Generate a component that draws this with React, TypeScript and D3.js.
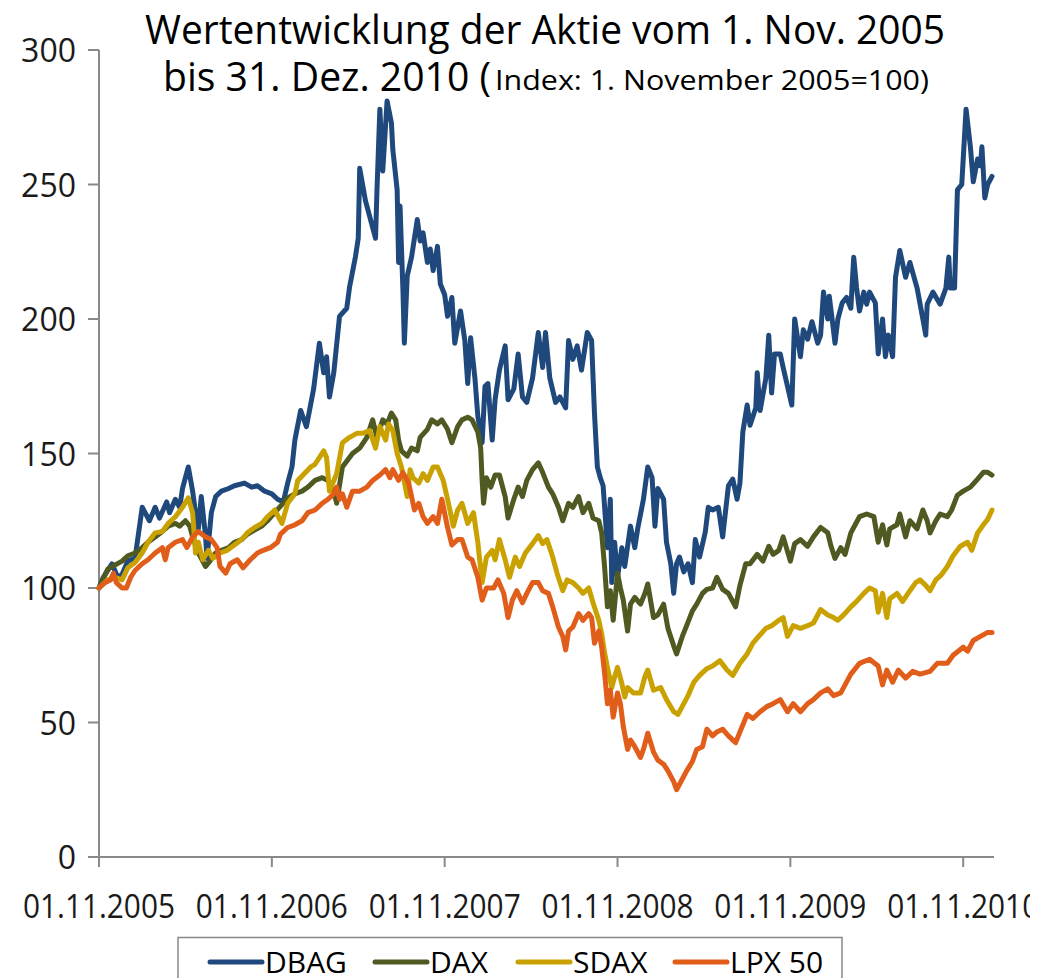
import * as d3 from 'd3'

// months after 01.11.2005, index value (01.11.2005 = 100)
const dbag: [number, number][] = [
  [0, 100], [0.3, 104], [0.9, 109], [1.3, 104], [1.6, 105], [2.0, 110], [2.5, 111], [3.0, 130], [3.2, 128],
  [3.5, 125], [3.9, 130], [4.2, 126], [4.7, 132], [4.9, 128], [5.3, 133], [5.6, 130], [5.8, 137], [6.2, 145],
  [6.5, 136], [6.7, 128], [6.9, 122], [7.1, 134], [7.4, 119], [7.5, 111], [7.8, 128], [8.1, 134], [8.5, 136],
  [9.0, 137], [9.4, 138], [10.1, 139], [10.6, 137.5], [11.0, 138], [11.5, 136], [12.0, 135], [12.4, 133],
  [12.8, 132], [13.1, 139], [13.4, 145], [13.6, 155], [14.0, 166], [14.4, 160], [14.9, 174], [15.3, 191],
  [15.6, 180], [15.8, 186], [16.0, 171], [16.3, 180], [16.7, 201], [17.2, 204], [17.4, 212], [17.8, 223],
  [18.0, 230], [18.1, 256], [18.5, 244], [18.8, 238], [19.2, 230], [19.3, 248], [19.5, 278], [19.7, 255],
  [20.0, 281], [20.3, 273], [20.4, 263], [20.7, 248], [20.8, 221], [20.9, 242], [21.1, 211], [21.2, 191],
  [21.4, 216], [21.7, 223], [22.1, 237], [22.3, 229], [22.5, 232], [22.8, 221], [23.0, 226], [23.2, 218],
  [23.5, 227], [23.7, 213], [24.0, 209], [24.2, 201], [24.5, 208], [24.7, 191], [25.1, 203], [25.4, 192],
  [25.6, 176], [25.8, 193], [26.1, 178], [26.3, 164], [26.6, 154], [26.8, 175], [27.0, 176], [27.3, 155],
  [27.5, 170], [27.8, 181], [28.2, 190], [28.4, 170], [28.8, 174], [29.1, 187], [29.4, 171], [29.7, 169],
  [30.1, 178], [30.5, 195], [30.8, 182], [31.0, 195], [31.3, 178], [31.7, 169], [32.0, 171], [32.4, 167],
  [32.6, 192], [32.9, 185], [33.2, 190], [33.5, 181], [33.9, 195], [34.2, 192], [34.4, 165], [34.6, 145],
  [34.8, 141], [35.0, 138], [35.3, 115], [35.5, 133], [35.6, 102], [35.8, 117], [36.0, 104], [36.3, 115],
  [36.5, 108], [36.9, 123], [37.2, 115], [37.4, 122], [37.8, 133], [38.1, 145], [38.4, 141], [38.6, 123],
  [38.8, 137], [39.2, 133], [39.4, 117], [39.7, 109], [39.9, 98], [40.1, 109], [40.3, 111.5], [40.6, 106],
  [40.9, 109], [41.2, 102], [41.4, 118], [41.7, 111.5], [42.1, 121], [42.3, 130], [42.6, 129], [43.0, 130],
  [43.3, 119], [43.7, 138], [44.0, 140.5], [44.3, 133], [44.5, 139], [44.7, 158], [45.0, 168], [45.2, 160.5],
  [45.6, 167], [45.7, 180], [45.9, 166], [46.3, 178], [46.5, 194], [46.7, 172.5], [46.9, 187], [47.3, 187],
  [47.5, 182], [47.8, 175], [48.1, 168], [48.3, 200], [48.7, 186], [48.9, 196], [49.2, 192.5], [49.5, 199],
  [49.9, 191], [50.1, 194], [50.3, 210], [50.6, 200], [50.7, 208.5], [50.9, 200], [51.1, 191], [51.3, 200],
  [51.6, 206], [51.9, 208], [52.2, 204], [52.4, 223], [52.6, 211.5], [52.8, 203], [53.1, 210], [53.3, 205.5],
  [53.5, 210], [53.9, 206], [54.1, 187], [54.4, 200], [54.6, 186], [54.8, 194], [55.1, 186], [55.3, 215.5],
  [55.6, 225.5], [56.0, 215.5], [56.3, 221], [56.8, 211.5], [57.2, 200], [57.4, 194], [57.5, 205.5],
  [57.9, 210], [58.4, 205.5], [58.8, 211.5], [59.0, 223], [59.1, 211.5], [59.4, 211.5], [59.6, 248],
  [59.9, 250], [60.2, 278], [60.5, 264], [60.7, 251], [61.0, 259.5], [61.2, 257], [61.3, 264], [61.5, 245],
  [61.7, 250], [62.0, 253],
]

const dax: [number, number][] = [
  [0, 100], [0.6, 107], [1.1, 108.5], [1.6, 110], [2.0, 112], [2.5, 113], [3.0, 115], [3.4, 117], [3.9, 119],
  [4.4, 121], [4.8, 123], [5.3, 124], [5.6, 123], [6.0, 125], [6.3, 123], [6.5, 119], [6.9, 113], [7.2, 110],
  [7.4, 108], [7.7, 110], [8.1, 113], [8.5, 114], [9.0, 115], [9.4, 117], [9.9, 118], [10.3, 120],
  [10.8, 121.5], [11.3, 123], [11.7, 125], [12.2, 128], [12.7, 131], [13.1, 133.5], [13.6, 135], [14.1, 136],
  [14.5, 137.5], [15.0, 140], [15.5, 141], [15.9, 140], [16.3, 136], [16.5, 131.5], [16.9, 145], [17.6, 150],
  [18.1, 152], [18.6, 156], [19.0, 162.5], [19.3, 156], [19.7, 162.5], [20.0, 161], [20.3, 165],
  [20.6, 162.5], [20.8, 155], [21.0, 151], [21.4, 149], [21.7, 152], [22.1, 151], [22.3, 156], [22.8, 159],
  [23.1, 162.5], [23.5, 161], [23.8, 162.5], [24.2, 159], [24.5, 154], [24.9, 160], [25.2, 162.5],
  [25.6, 163.5], [25.9, 162.5], [26.3, 158], [26.5, 152], [26.6, 140], [26.7, 131.5], [26.9, 141],
  [27.2, 137.5], [27.5, 142], [27.8, 142], [28.2, 134], [28.4, 126], [28.8, 133], [29.1, 137.5], [29.4, 134],
  [29.7, 140], [30.1, 144], [30.5, 146.5], [30.8, 143], [31.2, 137.5], [31.5, 135], [31.9, 130], [32.2, 125],
  [32.6, 131.5], [32.9, 130], [33.3, 134], [33.6, 128], [34.0, 131.5], [34.3, 126], [34.7, 125],
  [34.9, 120.5], [35.1, 108], [35.3, 93], [35.5, 99], [35.7, 88], [36.0, 105.5], [36.2, 100], [36.4, 95.5],
  [36.7, 84], [36.9, 94], [37.2, 96.5], [37.6, 94], [37.9, 98], [38.1, 101.5], [38.5, 89], [38.8, 90],
  [39.2, 94], [39.5, 85], [39.9, 78.5], [40.1, 75.5], [40.5, 82], [40.8, 86], [41.2, 91.5], [41.5, 94],
  [41.9, 98], [42.2, 99.5], [42.6, 100], [42.9, 104], [43.3, 99.5], [43.7, 98], [44.2, 93], [44.5, 101],
  [44.9, 109], [45.2, 109], [45.7, 112.5], [46.1, 110], [46.5, 115.5], [46.8, 112.5], [47.2, 114],
  [47.5, 119], [48.0, 110], [48.3, 116.5], [48.7, 118], [49.2, 115.5], [49.6, 119], [50.1, 122.5],
  [50.6, 120.5], [50.8, 116], [51.1, 111], [51.5, 115], [51.8, 112.5], [52.2, 120.5], [52.5, 123.5],
  [52.8, 126.5], [53.3, 127.5], [53.8, 126.5], [54.1, 117], [54.4, 123.5], [54.7, 116], [54.9, 122],
  [55.4, 123.5], [55.6, 127.5], [56.0, 119], [56.3, 125], [56.8, 122], [57.2, 129], [57.5, 125],
  [57.7, 120.5], [58.1, 125], [58.4, 127.5], [58.9, 126.5], [59.2, 129], [59.6, 134.5], [60.0, 136],
  [60.5, 137.5], [61.0, 140.5], [61.4, 143], [61.7, 143], [62.0, 142],
]

const sdax: [number, number][] = [
  [0, 100], [0.6, 103], [1.1, 104], [1.6, 103], [2.0, 107.5], [2.5, 109.5], [3.0, 113], [3.4, 117],
  [3.9, 120.5], [4.4, 121], [4.8, 124], [5.3, 126.5], [5.8, 130], [6.2, 133.5], [6.5, 128], [6.6, 120.5],
  [6.7, 113], [6.9, 117], [7.2, 110.5], [7.6, 114], [7.9, 111], [8.4, 113], [8.9, 114], [9.4, 116],
  [9.9, 118], [10.3, 120.5], [10.8, 122.5], [11.3, 124], [11.7, 126.5], [12.2, 129], [12.7, 124],
  [13.1, 131.5], [13.6, 135], [13.8, 140], [14.7, 145], [15.0, 146], [15.6, 151], [15.8, 148.5], [16.0, 136],
  [16.5, 142.5], [16.9, 154], [17.4, 156], [17.9, 157.5], [18.3, 157.5], [18.8, 158.5], [19.2, 152],
  [19.5, 160], [19.9, 155], [20.1, 161], [20.4, 158.5], [20.7, 150], [21.0, 145], [21.4, 134], [21.6, 144],
  [21.8, 141], [22.2, 139], [22.5, 142.5], [22.8, 140], [23.2, 145], [23.5, 145], [23.9, 140], [24.2, 133],
  [24.6, 123], [24.9, 129], [25.2, 131.5], [25.6, 124], [26.0, 128], [26.3, 117], [26.6, 102],
  [26.9, 111.5], [27.3, 114], [27.5, 110.5], [27.8, 118], [28.2, 110.5], [28.5, 104], [28.9, 111.5],
  [29.2, 108], [29.6, 113], [30.1, 116.5], [30.5, 119.5], [30.8, 116.5], [31.1, 118], [31.5, 111.5],
  [31.8, 105.5], [32.2, 99], [32.5, 103], [32.9, 102], [33.3, 100], [33.6, 98], [34.0, 100], [34.3, 94.5],
  [34.7, 88], [34.9, 83], [35.1, 76], [35.3, 70.5], [35.6, 63], [35.8, 67], [36.0, 70.5], [36.3, 64.5],
  [36.5, 59.5], [36.7, 63], [37.1, 61], [37.6, 61], [37.9, 67], [38.1, 69.5], [38.5, 62], [39.0, 63],
  [39.4, 58.5], [39.9, 54], [40.2, 53], [40.6, 57], [40.9, 60], [41.3, 65], [41.7, 67.5], [42.2, 70],
  [42.6, 71], [43.1, 73], [43.6, 69.5], [44.0, 67.5], [44.5, 72], [45.0, 75.5], [45.4, 79.5], [45.8, 82],
  [46.3, 85], [46.7, 86], [47.2, 88], [47.5, 89], [47.8, 82], [48.2, 86], [48.7, 85], [49.2, 86], [49.6, 87],
  [50.1, 92], [50.6, 90], [51.0, 89], [51.3, 88], [51.7, 90], [52.2, 93], [52.6, 95], [53.1, 98], [53.5, 100],
  [53.9, 99], [54.1, 91], [54.4, 98], [54.7, 89], [54.9, 96], [55.4, 98], [55.8, 95], [56.3, 99],
  [56.7, 102], [57.0, 103], [57.4, 101], [57.7, 99], [58.1, 103], [58.5, 105], [58.9, 108], [59.3, 112],
  [59.8, 115.5], [60.3, 117], [60.6, 114], [61.0, 120.5], [61.4, 123.5], [61.7, 125.5], [62.0, 129],
]

const lpx50: [number, number][] = [
  [0, 100], [0.4, 102], [0.8, 103], [1.0, 105.5], [1.2, 102], [1.6, 100], [1.9, 100], [2.2, 104],
  [2.5, 106.5], [3.0, 109], [3.4, 110.5], [3.9, 113], [4.4, 115], [4.6, 110.5], [4.8, 115], [5.3, 117],
  [5.8, 118], [6.1, 115], [6.5, 119], [6.9, 121], [7.4, 119], [7.8, 118], [8.2, 115], [8.4, 108],
  [8.8, 105.5], [9.1, 109], [9.6, 110.5], [10.0, 107.5], [10.5, 110.5], [11.0, 113], [11.4, 114],
  [11.9, 115], [12.4, 117], [12.6, 120], [13.1, 122.5], [13.6, 123.5], [14.1, 125], [14.5, 128], [15.0, 129],
  [15.5, 131.5], [15.9, 133], [16.3, 135], [16.5, 137.5], [16.7, 133], [16.9, 135], [17.2, 130],
  [17.6, 136], [18.1, 136], [18.6, 137.5], [19.0, 140], [19.5, 142], [19.9, 144], [20.2, 141], [20.4, 144],
  [20.8, 140], [21.1, 143], [21.5, 139], [21.7, 134], [21.9, 129], [22.2, 131.5], [22.5, 126.5], [22.8, 124],
  [23.2, 126.5], [23.5, 124], [23.8, 133], [24.2, 122.5], [24.5, 116], [24.9, 118], [25.2, 118],
  [25.6, 111.5], [25.9, 110.5], [26.3, 104], [26.6, 95.5], [26.9, 100], [27.4, 100], [27.7, 103], [28.1, 98],
  [28.4, 89], [28.7, 95.5], [29.0, 99], [29.4, 94.5], [29.7, 98], [30.1, 102], [30.5, 102], [30.8, 99],
  [31.2, 98], [31.5, 93], [31.9, 85.5], [32.2, 82], [32.4, 77], [32.6, 84], [32.9, 85.5], [33.3, 90.5],
  [33.6, 88], [34.0, 90.5], [34.2, 89], [34.4, 79.5], [34.7, 84], [34.9, 78], [35.1, 68.5], [35.3, 57],
  [35.5, 62], [35.7, 52], [36.0, 61], [36.2, 57], [36.4, 48.5], [36.7, 40], [36.9, 43.5], [37.2, 41],
  [37.6, 37], [37.8, 40], [38.1, 46], [38.5, 39], [38.8, 36], [39.2, 34.5], [39.5, 32], [39.9, 28], [40.1, 25],
  [40.5, 29], [40.8, 32], [41.2, 35.5], [41.5, 40], [41.9, 41], [42.2, 47.5], [42.6, 45], [42.9, 46.5],
  [43.3, 47.5], [43.7, 45], [44.2, 42.5], [44.5, 46.5], [45.0, 53], [45.4, 51.5], [45.9, 54], [46.4, 56],
  [46.8, 57], [47.3, 58.5], [47.8, 54], [48.2, 57], [48.7, 54], [49.2, 57], [49.6, 58.5], [50.1, 61],
  [50.6, 62.5], [51.0, 60], [51.5, 61], [52.2, 68], [52.8, 72], [53.5, 73.5], [54.1, 71], [54.4, 64],
  [54.7, 69.5], [55.1, 65], [55.5, 69.5], [56.0, 66.5], [56.5, 69], [57.0, 68], [57.7, 69], [58.2, 72],
  [58.9, 72], [59.3, 75], [60.0, 78], [60.3, 76.5], [60.7, 80.5], [61.2, 82], [61.7, 83.5], [62.0, 83.5],
]

const seriesNames = ['DBAG', 'DAX', 'SDAX', 'LPX 50']
const seriesColors = ['#1f497d', '#4f5a22', '#c9a100', '#e05d1a']
const seriesData = [dbag, dax, sdax, lpx50]

const xTickMonths = [0, 12, 24, 36, 48, 60]
const xTickLabels = ['01.11.2005', '01.11.2006', '01.11.2007', '01.11.2008', '01.11.2009', '01.11.2010']
const yTicks = [0, 50, 100, 150, 200, 250, 300]

const W = 1030
const H = 978

export default function App() {
  const x = d3.scaleLinear().domain([0, 62]).range([99, 992])
  const y = d3.scaleLinear().domain([0, 300]).range([857, 50])

  const line = d3.line<[number, number]>()
    .x(d => x(d[0]))
    .y(d => y(d[1]))

  const axisColor = '#898989'
  const font = "'Open Sans', 'DejaVu Sans', sans-serif"
  const legendX = [210, 375, 518, 675]

  return (
    <div style={{ position: 'absolute', left: 0, top: 0 }}>
      <svg width={W} height={H} style={{ display: 'block', background: '#fff' }} fontFamily={font}>
        {/* title */}
        <text x={145} y={44} fontSize={40} textLength={800} lengthAdjust="spacingAndGlyphs" fill="#000">
          Wertentwicklung der Aktie vom 1. Nov. 2005
        </text>
        <text x={163} y={91} fontSize={40} textLength={328} lengthAdjust="spacingAndGlyphs" fill="#000">
          bis 31. Dez. 2010 (
        </text>
        <text x={495} y={90} fontSize={27} textLength={434} lengthAdjust="spacingAndGlyphs" fill="#000">
          Index: 1. November 2005=100)
        </text>

        {/* y axis */}
        <line x1={99} x2={99} y1={y(300)} y2={y(0)} stroke={axisColor} strokeWidth={2} />
        {yTicks.map(t => (
          <g key={t}>
            <line x1={88} x2={99} y1={y(t)} y2={y(t)} stroke={axisColor} strokeWidth={2} />
            <text x={76} y={y(t) + 12} textAnchor="end" fontSize={32} fill="#1a1a1a">{t}</text>
          </g>
        ))}

        {/* x axis */}
        <line x1={99} x2={994} y1={y(0)} y2={y(0)} stroke={axisColor} strokeWidth={2} />
        {xTickMonths.map((m, i) => (
          <g key={m}>
            <line x1={x(m)} x2={x(m)} y1={y(0)} y2={y(0) + 10} stroke={axisColor} strokeWidth={2} />
            <text x={x(m) - 76} y={918} fontSize={32} textLength={152} lengthAdjust="spacingAndGlyphs" fill="#1a1a1a">
              {xTickLabels[i]}
            </text>
          </g>
        ))}

        {/* series */}
        {seriesData.map((d, i) => (
          <path key={seriesNames[i]} d={line(d) ?? ''} fill="none" stroke={seriesColors[i]}
            strokeWidth={5} strokeLinejoin="round" strokeLinecap="round" />
        ))}

        {/* legend */}
        <rect x={178} y={937.5} width={664} height={80} fill="#fff" stroke={axisColor} strokeWidth={1.5} />
        {seriesNames.map((n, i) => (
          <g key={n}>
            <line x1={legendX[i]} x2={legendX[i] + 52} y1={962} y2={962} stroke={seriesColors[i]}
              strokeWidth={5} strokeLinecap="round" />
            <text x={legendX[i] + 55} y={973} fontSize={30} fill="#000">{n}</text>
          </g>
        ))}
      </svg>
    </div>
  )
}
